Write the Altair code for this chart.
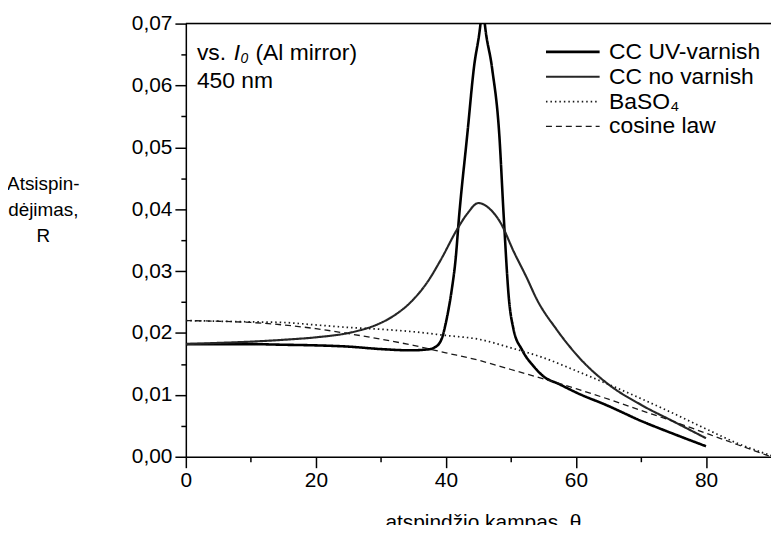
import altair as alt
import pandas as pd

FONT = "Liberation Sans"

series_names = ["CC UV-varnish", "CC no varnish", "BaSO₄", "cosine law"]
series_colors = ["#000000", "#262626", "#1a1a1a", "#1a1a1a"]
series_dash = [[1, 0], [1, 0], [1.5, 3], [6, 4]]
series_width = [2.6, 1.3, 1.4, 1.4]

theta_uv = [0, 5, 10, 15, 20, 25, 30, 34.6, 37.6, 38.3, 38.9, 39.4, 39.9, 40.4, 40.9, 41.5,
            42.0, 43.3, 44.3, 45.3, 45.65, 46.0, 47.1, 48.2, 48.9, 49.7, 50.4, 51.7, 53.5,
            55.0, 57.5, 60.0, 65.0, 70.0, 75.0, 80.0]
r_uv = [0.0182, 0.0182, 0.0182, 0.0181, 0.0180, 0.0178, 0.0174, 0.0172, 0.0174, 0.0177,
        0.0182, 0.0192, 0.0212, 0.0238, 0.0270, 0.0320, 0.0385, 0.0522, 0.0628, 0.0698,
        0.0735, 0.0698, 0.0628, 0.0522, 0.0387, 0.0254, 0.0206, 0.0173, 0.0146, 0.0130,
        0.0117, 0.0104, 0.0082, 0.0058, 0.0037, 0.0017]

theta_nv = [0, 5, 10, 15, 20, 24.5, 27, 29.5, 32, 34.6, 37.2, 39.2, 41.7, 43.3, 45.0, 46.8,
            48.3, 50.5, 52.4, 54.0, 57.0, 60.6, 65.0, 70.0, 75.0, 80.0]
r_nv = [0.0182, 0.0184, 0.0186, 0.0189, 0.0193, 0.0199, 0.0205, 0.0214, 0.0228, 0.0250,
        0.0283, 0.0318, 0.0367, 0.0393, 0.0410, 0.0400, 0.0380, 0.0330, 0.0290, 0.0254,
        0.0206, 0.0159, 0.0117, 0.0084, 0.0057, 0.0030]

theta_ba = [0, 5, 10, 15, 20, 25, 30, 35, 40, 45, 50, 55, 60, 65, 70, 75, 80, 85, 90]
r_ba = [0.0220, 0.0219, 0.0218, 0.0217, 0.0213, 0.0209, 0.0206, 0.0202, 0.0196, 0.0190,
        0.0176, 0.0160, 0.0139, 0.0117, 0.0094, 0.0070, 0.0045, 0.0021, 0.0002]

theta_cos = [0, 5, 10, 15, 20, 25, 30, 35, 40, 45, 50, 55, 60, 65, 70, 75, 80, 85, 90]
r_cos = [0.0220, 0.0219, 0.0217, 0.0213, 0.0207, 0.0199, 0.0190, 0.0180, 0.0168, 0.0156,
         0.0141, 0.0126, 0.0110, 0.0093, 0.0075, 0.0057, 0.0038, 0.0019, 0.0000]

x_major = [0, 20, 40, 60, 80]
x_minor = [10, 30, 50, 70]
y_major = [0.0, 0.01, 0.02, 0.03, 0.04, 0.05, 0.06, 0.07]
y_minor = [0.005, 0.015, 0.025, 0.035, 0.045, 0.055, 0.065]

x_title = "atspindžio kampas, θ"
y_title = ["Atsispin-", "dėjimas,", "R"]

ann_theta = 1.7
ann_r = [0.0653, 0.0607]

rows = []
for name, th, rr in zip(series_names, [theta_uv, theta_nv, theta_ba, theta_cos],
                        [r_uv, r_nv, r_ba, r_cos]):
    for t, r in zip(th, rr):
        rows.append({"series": name, "theta": t, "R": r})
df = pd.DataFrame(rows)

xscale = alt.Scale(domain=[0, 90], nice=False, zero=False)
yscale = alt.Scale(domain=[0, 0.07], nice=False)

leg = alt.Legend(title=None, orient="none", legendX=395, legendY=17,
                 symbolType="M-4.4,0H1", symbolSize=400, labelFont=FONT,
                 labelFontSize=23, labelColor="black", labelOffset=8, rowPadding=1,
                 padding=0)

lines = alt.Chart(df).mark_line(clip=True, interpolate="monotone").encode(
    x=alt.X("theta:Q", scale=xscale, axis=alt.Axis(
        values=x_major, orient="bottom", tickSize=11, tickWidth=1.5, tickColor="black",
        domainColor="black", domainWidth=1.5, labelFont=FONT, labelFontSize=21,
        labelColor="black", labelPadding=2, labelFlush=False, labelOverlap=False,
        grid=False, title=x_title, titleFont=FONT, titleFontSize=21,
        titleFontWeight="normal", titleColor="black", titleY=72, titleX=299,
        titleBaseline="alphabetic")),
    y=alt.Y("R:Q", scale=yscale, axis=alt.Axis(
        values=y_major, orient="left", tickSize=11, tickWidth=1.5, tickColor="black",
        domainColor="black", domainWidth=1.5, labelFont=FONT, labelFontSize=21,
        labelColor="black", labelPadding=3, labelFlush=False, labelOverlap=False,
        labelExpr="replace(format(datum.value, '.2f'), '.', ',')",
        grid=False, title=y_title, titleFont=FONT, titleFontSize=19,
        titleFontWeight="normal", titleColor="black", titleAngle=0,
        titleAlign="center", titleBaseline="alphabetic", titleX=-144, titleY=167,
        titleLineHeight=26)),
    color=alt.Color("series:N", scale=alt.Scale(domain=series_names, range=series_colors),
                    legend=leg),
    strokeDash=alt.StrokeDash("series:N", scale=alt.Scale(domain=series_names,
                                                          range=series_dash), legend=leg),
    strokeWidth=alt.StrokeWidth("series:N", scale=alt.Scale(domain=series_names,
                                                            range=series_width), legend=leg),
)

minor = alt.Chart(pd.DataFrame({"theta": x_minor, "R": y_minor[:4]})).mark_point(opacity=0).encode(
    x=alt.X("theta:Q", scale=xscale, axis=alt.Axis(
        values=x_minor, orient="bottom", labels=False, domain=False, tickSize=5,
        tickWidth=1.5, tickColor="black", grid=False, title=None)),
    y=alt.Y("R:Q", scale=yscale, axis=alt.Axis(
        values=y_minor, orient="left", labels=False, domain=False, tickSize=5,
        tickWidth=1.5, tickColor="black", grid=False, title=None)),
)

top = alt.Chart(pd.DataFrame({"R": [0.07]})).mark_rule(color="black", strokeWidth=1.5).encode(
    y=alt.Y("R:Q", scale=yscale, axis=None))


def ann(label, r, dx, dy=0, size=23, style="normal"):
    d = pd.DataFrame({"theta": [ann_theta], "R": [r], "label": [label]})
    return alt.Chart(d).mark_text(align="left", baseline="middle", dx=dx, dy=dy, font=FONT,
                                  fontSize=size, fontStyle=style, color="black").encode(
        x=alt.X("theta:Q", scale=xscale, axis=None),
        y=alt.Y("R:Q", scale=yscale, axis=None),
        text="label:N")


texts = [
    ann("vs.", ann_r[0], 0),
    ann("I", ann_r[0], 37, style="italic"),
    ann("0", ann_r[0], 44, dy=6, size=14, style="italic"),
    ann("(Al mirror)", ann_r[0], 59),
    ann("450 nm", ann_r[1], 0),
]

chart = alt.layer(lines, minor, top, *texts).resolve_axis(
    x="independent", y="independent"
).properties(
    width=589, height=436,
    autosize=alt.AutoSizeParams(type="none"),
    padding={"left": 179, "top": 14, "right": 0, "bottom": 67},
).configure_view(stroke=None).configure(background="white")

chart.save("out.html", embed_options={"renderer": "svg", "actions": False})
